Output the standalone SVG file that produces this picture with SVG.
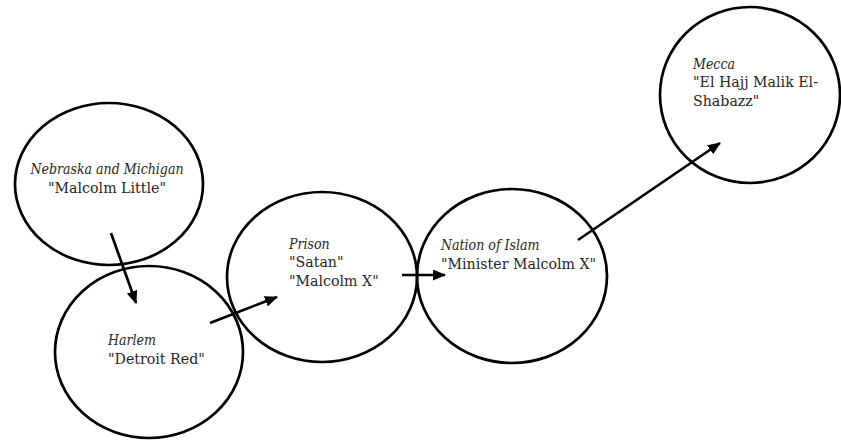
<svg xmlns="http://www.w3.org/2000/svg" width="841" height="443" viewBox="0 0 841 443">
  <style>
    .node { fill: none; stroke: #000; stroke-width: 2.7; }
    .edge { fill: none; stroke: #000; stroke-width: 2.7; }
    text { font-family: "DejaVu Serif", "Liberation Serif", serif; font-size: 14.2px; fill: #262626; }
    .place { font-family: "DejaVu Serif Condensed", "DejaVu Serif", serif; font-style: italic; font-size: 14px; }
  </style>
  <defs>
    <marker id="arrow" markerWidth="13" markerHeight="11" refX="12" refY="5.5" orient="auto" markerUnits="userSpaceOnUse">
      <path d="M0,0 L13,5.5 L0,11 Z" fill="#000"/>
    </marker>
  </defs>

  <g id="nebraska">
    <ellipse class="node" cx="109" cy="184" rx="94" ry="81"/>
    <text x="107" y="174" text-anchor="middle" class="place">Nebraska and Michigan</text>
    <text x="107" y="193" text-anchor="middle">"Malcolm Little"</text>
  </g>

  <g id="harlem">
    <ellipse class="node" cx="149" cy="352" rx="94" ry="86"/>
    <text x="108" y="345" class="place">Harlem</text>
    <text x="108" y="364">"Detroit Red"</text>
  </g>

  <g id="prison">
    <ellipse class="node" cx="322" cy="277" rx="95" ry="85"/>
    <text x="289" y="249" class="place">Prison</text>
    <text x="289" y="267">"Satan"</text>
    <text x="289" y="286">"Malcolm X"</text>
  </g>

  <g id="nation">
    <ellipse class="node" cx="512" cy="276" rx="95" ry="87"/>
    <text x="441" y="250" class="place">Nation of Islam</text>
    <text x="441" y="269">"Minister Malcolm X"</text>
  </g>

  <g id="mecca">
    <ellipse class="node" cx="750" cy="95" rx="90" ry="88"/>
    <text x="693" y="69" class="place">Mecca</text>
    <text x="693" y="87">"El Hajj Malik El-</text>
    <text x="693" y="106">Shabazz"</text>
  </g>

  <g id="connectors">
    <line class="edge" x1="111" y1="233" x2="136" y2="303" marker-end="url(#arrow)"/>
    <line class="edge" x1="210" y1="323" x2="277" y2="297" marker-end="url(#arrow)"/>
    <line class="edge" x1="402" y1="275" x2="445" y2="275" marker-end="url(#arrow)"/>
    <line class="edge" x1="578" y1="240" x2="720" y2="143" marker-end="url(#arrow)"/>
  </g>
</svg>
